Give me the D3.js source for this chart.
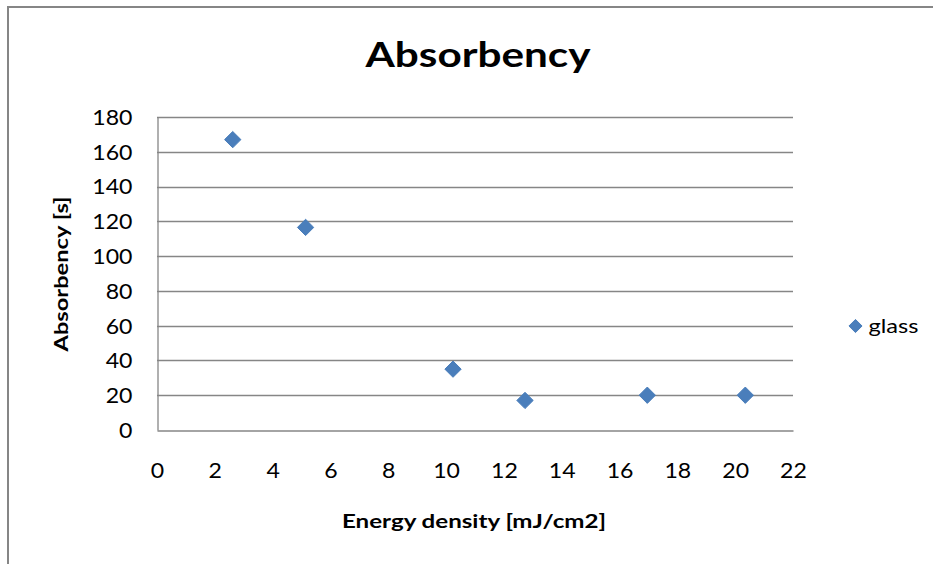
<!DOCTYPE html>
<html>
<head>
<meta charset="utf-8">
<script src="https://cdn.jsdelivr.net/npm/d3@7/dist/d3.min.js"></script>
<style>
  html, body { margin: 0; padding: 0; background: #fff; }
  svg { display: block; }
  text { font-family: Lato, "Open Sans", sans-serif; fill: #000; }
</style>
</head>
<body>
<script>
// Measured absorbency of glass vs laser energy density
const energyDensity = [2.62, 5.14, 10.24, 12.73, 16.96, 20.35];
const absorbency = [167, 116.5, 35, 17, 20, 20];
const seriesName = "glass";
const xTicks = [0, 2, 4, 6, 8, 10, 12, 14, 16, 18, 20, 22];
const yTicks = [0, 20, 40, 60, 80, 100, 120, 140, 160, 180];

const W = 933, H = 564;
const plot = { left: 157, top: 117, right: 793, bottom: 430 };
const blue = "#4a7ebb", grid = "#868686";

const svg = d3.select("body").append("svg").attr("width", W).attr("height", H);

// widen glyphs slightly for a broader, Calibri-like text face
function widen(sel, k) {
  sel.each(function () {
    const w = this.getComputedTextLength();
    d3.select(this).attr("textLength", w * k).attr("lengthAdjust", "spacingAndGlyphs");
  });
}

// outer chart frame
svg.append("rect").attr("x", 8).attr("y", 7).attr("width", W + 10).attr("height", H + 10)
  .attr("fill", "none").attr("stroke", grid).attr("stroke-width", 2);

const x = d3.scaleLinear().domain([0, 22]).range([plot.left, plot.right]);
const y = d3.scaleLinear().domain([0, 180]).range([plot.bottom, plot.top]);

// horizontal gridlines
svg.append("g").selectAll("line").data(yTicks.filter(d => d > 0)).join("line")
  .attr("x1", plot.left).attr("x2", plot.right)
  .attr("y1", d => Math.round(y(d)) + 0.5).attr("y2", d => Math.round(y(d)) + 0.5)
  .attr("stroke", grid).attr("stroke-width", d => d === 180 ? 1.5 : 1.3);

// axes
const yAxis = d3.axisLeft(y).tickValues(yTicks).tickSize(0).tickPadding(25);
const gy = svg.append("g").attr("transform", `translate(${plot.left + 0.5},0)`).call(yAxis);
gy.select(".domain").attr("stroke", grid).attr("stroke-width", 1.3);
gy.selectAll("text").style("font-size", "21px").attr("dy", "0.35em").call(widen, 1.1);

const xAxis = d3.axisBottom(x).tickValues(xTicks).tickSize(0);
const gx = svg.append("g").attr("transform", `translate(0,${plot.bottom + 0.5})`).call(xAxis);
gx.select(".domain").attr("stroke", grid).attr("stroke-width", 1.3);
gx.selectAll("text").style("font-size", "21px").attr("y", 47).attr("dy", 0).call(widen, 1.1);

// data markers
const diamond = d3.symbol().type(d3.symbolDiamond2).size(170);
svg.append("g").selectAll("path").data(energyDensity.map((e, i) => [e, absorbency[i]])).join("path")
  .attr("d", diamond)
  .attr("transform", d => `translate(${x(d[0])},${y(d[1])})`)
  .attr("fill", blue).attr("stroke", blue).attr("stroke-width", 1);

// titles
svg.append("text").attr("x", 478).attr("y", 67).attr("text-anchor", "middle")
  .style("font-size", "34px").style("font-weight", "bold")
  .attr("textLength", 225).attr("lengthAdjust", "spacingAndGlyphs").text("Absorbency");
svg.append("text").attr("transform", "translate(68,274) rotate(-90)").attr("text-anchor", "middle")
  .style("font-size", "19px").style("font-weight", "bold")
  .attr("textLength", 155).attr("lengthAdjust", "spacingAndGlyphs").text("Absorbency [s]");
svg.append("text").attr("x", 474).attr("y", 528).attr("text-anchor", "middle")
  .style("font-size", "19px").style("font-weight", "bold")
  .attr("textLength", 264).attr("lengthAdjust", "spacingAndGlyphs").text("Energy density [mJ/cm2]");

// legend
const lg = svg.append("g").attr("transform", "translate(855.5,326)");
lg.append("path").attr("d", d3.symbol().type(d3.symbolDiamond2).size(110))
  .attr("fill", blue).attr("stroke", blue);
lg.append("text").attr("x", 13).attr("y", 0).attr("dy", "0.35em")
  .style("font-size", "20px").text(seriesName).call(widen, 1.18);
</script>
</body>
</html>
